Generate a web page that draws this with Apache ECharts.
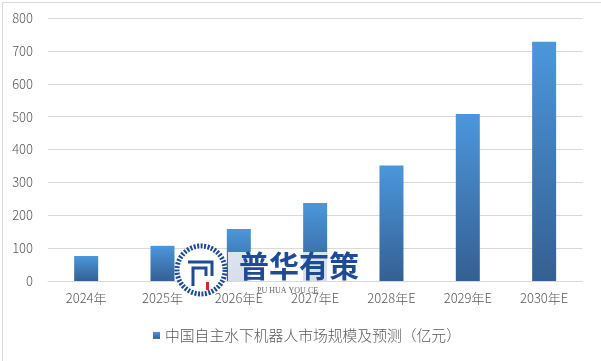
<!DOCTYPE html>
<html>
<head>
<meta charset="utf-8">
<script src="https://cdn.jsdelivr.net/npm/echarts@6/dist/echarts.min.js"></script>
<style>
html,body{margin:0;padding:0;background:#fff;}
#c{width:601px;height:361px;}
</style>
</head>
<body>
<div id="c"></div>
<script>
var categories = ['2024年', '2025年', '2026年E', '2027年E', '2028年E', '2029年E', '2030年E'];
var marketSize = [76, 107, 158, 237, 351, 508, 728];
var seriesName = '中国自主水下机器人市场规模及预测（亿元）';
var yTicks = { min: 0, max: 800, interval: 100 };

var chart = echarts.init(document.getElementById('c'), null, { renderer: 'canvas' });
var font = '"Noto Sans CJK SC", "Noto Sans", sans-serif';
var barGrad = new echarts.graphic.LinearGradient(0, 0, 0, 1, [
  { offset: 0, color: '#4b97dc' },
  { offset: 1, color: '#355f92' }
]);
var option = {
  backgroundColor: '#ffffff',
  animation: false,
  grid: { left: 48, right: 18.7, top: 18, bottom: 80, containLabel: false },
  legend: {
    left: 148, top: 323,
    itemWidth: 7, itemHeight: 7,
    icon: 'rect',
    textStyle: { color: '#595959', fontSize: 14.8, fontWeight: 300, fontFamily: font },
    data: [seriesName]
  },
  xAxis: {
    type: 'category',
    data: categories,
    axisLine: { show: true, lineStyle: { color: '#d9d9d9', width: 1 } },
    axisTick: { show: false },
    axisLabel: { color: '#595959', fontSize: 13, fontWeight: 300, fontFamily: font, margin: 11 }
  },
  yAxis: {
    type: 'value',
    min: yTicks.min, max: yTicks.max, interval: yTicks.interval,
    axisLine: { show: false },
    axisTick: { show: false },
    axisLabel: { color: '#595959', fontSize: 13, fontWeight: 300, fontFamily: font, margin: 15 },
    splitLine: { lineStyle: { color: '#d9d9d9', width: 1 } }
  },
  series: [{
    name: seriesName,
    type: 'bar',
    data: marketSize,
    barWidth: 24,
    itemStyle: { color: barGrad }
  }],
  graphic: [
    { type: 'rect', left: 0, top: 0, z: 100, silent: true,
      shape: { x: 0.5, y: 0.5, width: 600, height: 359 },
      style: { fill: 'none', stroke: '#d9d9d9', lineWidth: 1 } },
    // watermark
    { type: 'rect', z: 100, silent: true,
      shape: { x: 228, y: 252, width: 138, height: 29 },
      style: { fill: 'rgba(255,255,255,0.8)' } },
    { type: 'circle', z: 101, silent: true,
      shape: { cx: 201, cy: 270, r: 24 },
      style: { fill: '#ffffff', stroke: '#1f4a94', lineWidth: 5, lineDash: [2, 1.5] } },
    { type: 'polyline', z: 102, silent: true,
      shape: { points: [[188, 262], [212, 262], [212, 276]] },
      style: { stroke: '#1f4a94', lineWidth: 3, fill: 'none' } },
    { type: 'polyline', z: 102, silent: true,
      shape: { points: [[193, 286], [193, 268], [206, 268], [206, 276]] },
      style: { stroke: '#1f4a94', lineWidth: 3, fill: 'none' } },
    { type: 'rect', z: 102, silent: true,
      shape: { x: 206, y: 282, width: 3, height: 8 },
      style: { fill: '#d9272e' } },
    { type: 'text', z: 102, silent: true, left: 239, top: 251,
      style: { text: '普华有策', fill: '#1f4a94', fontSize: 30, fontWeight: 'bold', fontFamily: font } },
    { type: 'text', z: 102, silent: true, left: 257, top: 287,
      style: { text: 'PU HUA YOU CE', fill: '#666666', fontSize: 8, fontFamily: '"Liberation Serif", serif' } }
  ]
};
chart.setOption(option);
</script>
</body>
</html>
